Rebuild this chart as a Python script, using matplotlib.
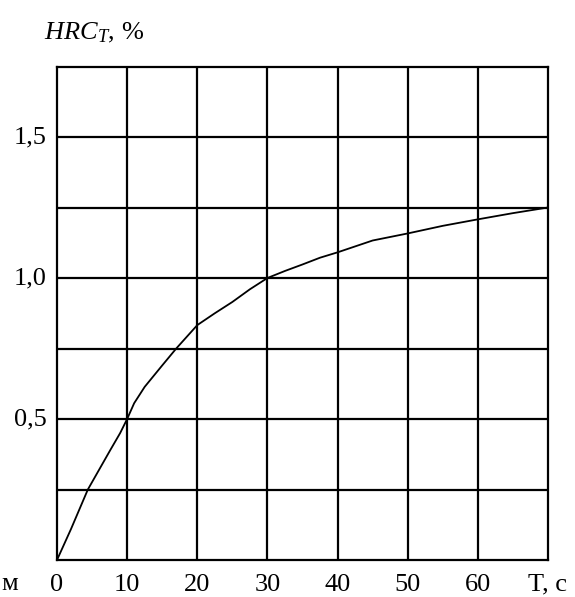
import matplotlib
matplotlib.use("Agg")
import matplotlib.pyplot as plt
import numpy as np

T = [0, 2, 4.4, 6, 7.6, 9, 10, 11, 12.5, 15, 17, 20, 22.5, 25, 27.5, 30, 32.5, 35, 37.5, 40, 45, 50, 55, 60, 65, 70]
HRC = [0, 0.11, 0.25, 0.32, 0.39, 0.45, 0.5, 0.556, 0.614, 0.69, 0.75, 0.833, 0.875, 0.915, 0.96, 1.0, 1.025, 1.048, 1.072, 1.091, 1.133, 1.158, 1.185, 1.208, 1.23, 1.25]

xticks = [0, 10, 20, 30, 40, 50, 60]
xtick_labels = ["0", "10", "20", "30", "40", "50", "60"]
yticks = [0.5, 1.0, 1.5]
ytick_labels = ["0,5", "1,0", "1,5"]

plt.rcParams['font.family'] = ['Liberation Serif', 'DejaVu Serif']
plt.rcParams['mathtext.fontset'] = 'custom'
plt.rcParams['mathtext.rm'] = 'Liberation Serif'
plt.rcParams['mathtext.it'] = 'Liberation Serif:italic'

fig = plt.figure(figsize=(5.75, 5.97), dpi=100)
ax = fig.add_axes([57/575, 37/597, 491/575, 493.5/597])
ax.set_xlim(0, 70)
ax.set_ylim(0, 1.75)

for xv in np.arange(10, 70, 10):
    ax.axvline(xv, color='black', lw=1.6)
for yv in np.arange(0.25, 1.75, 0.25):
    ax.axhline(yv, color='black', lw=1.6)

ax.plot(T, HRC, color='black', lw=1.3)

for s in ax.spines.values():
    s.set_linewidth(1.6)

ax.set_xticks([])
ax.set_yticks([])
FS = 19
for xv, lab in zip(xticks, xtick_labels):
    ax.text(xv, -0.088, lab, ha='center', va='center', fontsize=FS)
ax.text(70, -0.088, "T, c", ha='center', va='center', fontsize=FS)
for yv, lab in zip(yticks, ytick_labels):
    ax.text(-1.5, yv, lab, ha='right', va='center', fontsize=FS)

fig.text(1/575, 1 - 584/597, "м", ha='left', va='center', fontsize=FS)
fig.text(44/575, 1 - 33/597, r"$\mathit{HRC}_{\mathit{T}}$" + ", %", ha='left', va='center', fontsize=FS)

fig.savefig("out.png", dpi=100)
